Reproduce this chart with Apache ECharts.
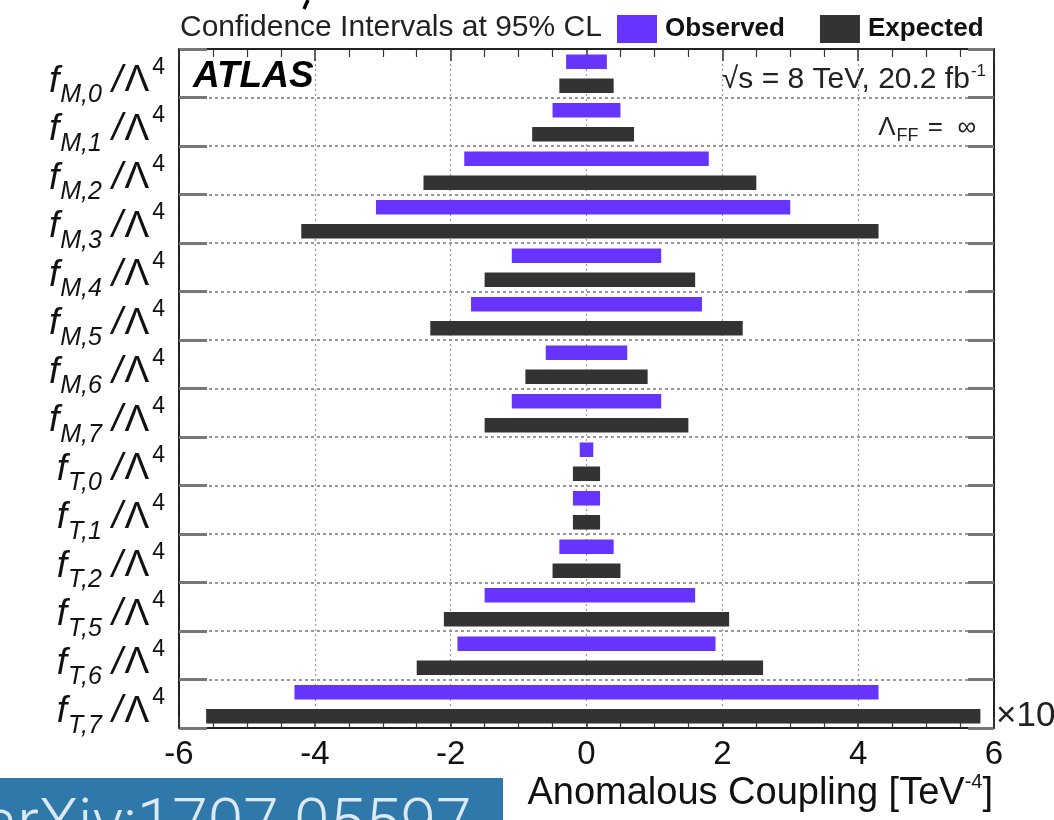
<!DOCTYPE html>
<html>
<head>
<meta charset="utf-8">
<script src="https://cdn.jsdelivr.net/npm/echarts@6/dist/echarts.min.js"></script>
<style>html,body{margin:0;padding:0;background:#fff}#chart{width:1054px;height:820px}</style>
</head>
<body>
<div id="chart"></div>
<script>
// ---- data (units of 10^3 TeV^-4) ----
const coefficients = ['M,0','M,1','M,2','M,3','M,4','M,5','M,6','M,7','T,0','T,1','T,2','T,5','T,6','T,7'];
const observedLow  = [-0.3,-0.5,-1.8,-3.1,-1.1,-1.7,-0.6,-1.1,-0.1,-0.2,-0.4,-1.5,-1.9,-4.3];
const observedHigh = [ 0.3, 0.5, 1.8, 3.0, 1.1, 1.7, 0.6, 1.1, 0.1, 0.2, 0.4, 1.6, 1.9, 4.3];
const expectedLow  = [-0.4,-0.8,-2.4,-4.2,-1.5,-2.3,-0.9,-1.5,-0.2,-0.2,-0.5,-2.1,-2.5,-5.6];
const expectedHigh = [ 0.4, 0.7, 2.5, 4.3, 1.6, 2.3, 0.9, 1.5, 0.2, 0.2, 0.5, 2.1, 2.6, 5.8];
const xMin = -6, xMax = 6, xStep = 2;
const seriesNames = ['Observed', 'Expected'];
const legendTitle = 'Confidence Intervals at 95% CL';
const axisTitle = 'Anomalous Coupling [TeV';

const FONT = '"Liberation Sans", Arial, Helvetica, sans-serif';
const OBS_COLOR = '#6633ff';
const EXP_COLOR = '#333333';

const chart = echarts.init(document.getElementById('chart'), null, {renderer: 'canvas'});

function rangeSeries(name, lows, highs, color, offsetFrac) {
  return {
    type: 'custom',
    name: name,
    xAxisIndex: 0,
    yAxisIndex: 0,
    itemStyle: {color: color},
    encode: {x: [1, 2], y: 0},
    data: coefficients.map((c, i) => [i, lows[i], highs[i]]),
    renderItem: function (params, api) {
      const i = api.value(0);
      const a = api.coord([api.value(1), i]);
      const b = api.coord([api.value(2), i]);
      const band = api.size([0, 1])[1];
      const h = band * 0.3;
      const cy = a[1] + band * offsetFrac;
      return {
        type: 'rect',
        shape: {x: a[0], y: cy - h / 2, width: b[0] - a[0], height: h},
        style: {fill: color}
      };
    }
  };
}

const frameLine = {show: true, onZero: false, lineStyle: {color: '#222', width: 2}};

const option = {
  animation: false,
  backgroundColor: '#ffffff',
  grid: {left: 179, top: 49, width: 815, height: 679},
  legend: {
    left: 617, top: 15, padding: 0,
    itemWidth: 40, itemHeight: 28, itemGap: 35,
    icon: 'rect',
    data: seriesNames,
    textStyle: {fontFamily: FONT, fontSize: 26, fontWeight: 'bold', color: '#111', padding: [0, 0, 0, 3]}
  },
  xAxis: [
    {
      type: 'value', position: 'bottom', min: xMin, max: xMax, interval: xStep,
      axisLine: frameLine,
      axisTick: {show: true, inside: true, length: 12, lineStyle: {color: '#333', width: 1.5}},
      minorTick: {show: true, splitNumber: 4, length: 8, lineStyle: {color: '#333', width: 1.2}},
      splitLine: {show: true, lineStyle: {color: '#999', width: 1.2, type: [2, 3]}},
      axisLabel: {margin: 10, fontFamily: FONT, fontSize: 33, color: '#111', showMinLabel: true, showMaxLabel: true}
    },
    {
      type: 'value', position: 'top', min: xMin, max: xMax, interval: xStep,
      axisLine: frameLine,
      axisTick: {show: true, inside: true, length: 12, lineStyle: {color: '#333', width: 1.5}},
      minorTick: {show: true, splitNumber: 4, length: 8, lineStyle: {color: '#333', width: 1.2}},
      splitLine: {show: false},
      axisLabel: {show: false}
    }
  ],
  yAxis: [
    {
      type: 'category', data: coefficients, inverse: true, position: 'left',
      axisLine: frameLine,
      axisTick: {show: true, inside: true, length: 28, lineStyle: {color: '#777', width: 3}},
      splitLine: {show: true, lineStyle: {color: '#777', width: 1.5, type: [3, 3]}},
      axisLabel: {
        margin: 14,
        interval: 0,
        showMinLabel: true,
        showMaxLabel: true,
        hideOverlap: false,
        padding: [16, 0, 0, 0],
        formatter: v => '{f|f}{sub|' + v + '}{sl|/}{lam|Λ}{sup|4}',
        rich: {
          f:   {fontFamily: FONT, fontStyle: 'italic', fontSize: 37, lineHeight: 37, color: '#111'},
          sub: {fontFamily: FONT, fontStyle: 'italic', fontSize: 25, lineHeight: 25, color: '#111', padding: [28, 10, 0, 1]},
          sl:  {fontFamily: FONT, fontStyle: 'italic', fontSize: 38, lineHeight: 38, color: '#111'},
          lam: {fontFamily: FONT, fontSize: 37, lineHeight: 37, color: '#111', padding: [0, 0, 0, 2]},
          sup: {fontFamily: FONT, fontSize: 23, lineHeight: 23, color: '#111', padding: [0, 0, 28, 3]}
        }
      }
    },
    {
      type: 'category', data: coefficients, inverse: true, position: 'right',
      axisLine: frameLine,
      axisTick: {show: true, inside: true, length: 26, lineStyle: {color: '#777', width: 3}},
      splitLine: {show: false},
      axisLabel: {show: false}
    }
  ],
  series: [
    rangeSeries(seriesNames[0], observedLow, observedHigh, OBS_COLOR, -0.237),
    rangeSeries(seriesNames[1], expectedLow, expectedHigh, EXP_COLOR, 0.258)
  ],
  graphic: [
    {type: 'line', shape: {x1: 308, y1: 0, x2: 304, y2: 9}, style: {stroke: '#000', lineWidth: 3.5}},
    {type: 'text', left: 180, top: 13, style: {text: legendTitle, font: '30px ' + FONT, fill: '#222'}},
    {type: 'text', left: 193, top: 58, style: {text: 'ATLAS', font: 'italic bold 37px ' + FONT, fill: '#000'}},
    {type: 'text', x: 986, y: 80, style: {
      text: '{a|√s = 8 TeV, 20.2 fb}{b|-1}', align: 'right', verticalAlign: 'middle',
      rich: {a: {fontFamily: FONT, fontSize: 30, lineHeight: 30, fill: '#222'},
             b: {fontFamily: FONT, fontSize: 17, lineHeight: 17, fill: '#222', padding: [0, 0, 18, 1]}}}},
    {type: 'text', x: 976, y: 128, style: {
      text: '{a|Λ}{b|FF}{a| =  ∞}', align: 'right', verticalAlign: 'middle',
      rich: {a: {fontFamily: FONT, fontSize: 26, lineHeight: 26, fill: '#222'},
             b: {fontFamily: FONT, fontSize: 18, lineHeight: 18, fill: '#222', padding: [16, 2, 0, 1]}}}},
    {type: 'text', x: 996, y: 716, style: {text: '×10³', font: '35px ' + FONT, fill: '#222', verticalAlign: 'middle'}},
    {type: 'text', x: 993, y: 794, style: {
      text: '{a|' + axisTitle + '}{b|-4}{a|]}', align: 'right', verticalAlign: 'middle',
      rich: {a: {fontFamily: FONT, fontSize: 38, lineHeight: 38, fill: '#111'},
             b: {fontFamily: FONT, fontSize: 20, lineHeight: 20, fill: '#111', padding: [0, 0, 24, 0]}}}},
    {type: 'rect', shape: {x: 0, y: 778, width: 503, height: 42}, style: {fill: '#2f79aa'}},
    {type: 'text', left: -17, top: 796, style: {text: 'arXiv:1707.05597', font: '300 64px Roboto, ' + FONT, fill: '#dce9f3'}}
  ]
};

chart.setOption(option);
</script>
</body>
</html>
